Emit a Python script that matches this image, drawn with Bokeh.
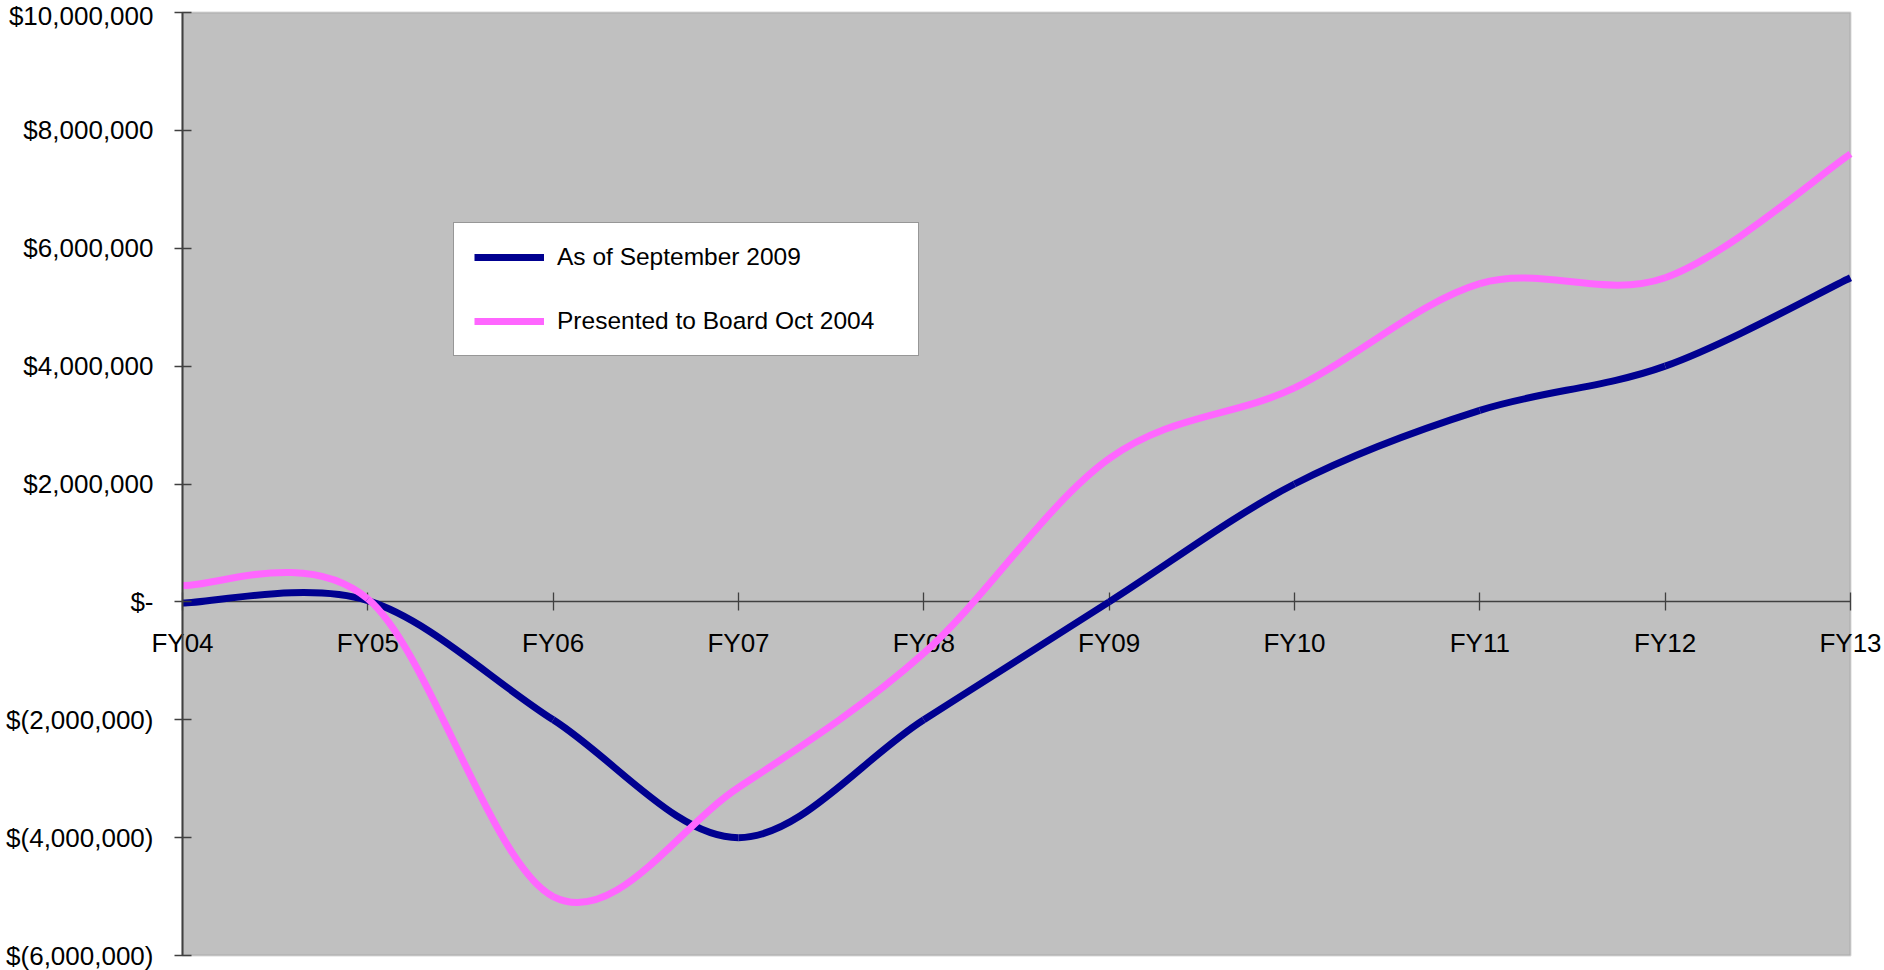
from bokeh.plotting import figure
from bokeh.models import (FixedTicker, Legend, LegendItem, ColumnDataSource, Range1d, BoxAnnotation)
from bokeh.embed import file_html
from bokeh.resources import INLINE

# ---------------- data ----------------
categories = ["FY04", "FY05", "FY06", "FY07", "FY08", "FY09", "FY10", "FY11", "FY12", "FY13"]
sept_2009 = [-20000, 20000, -2000000, -4000000, -2000000, 0, 2000000, 3250000, 4000000, 5500000]
oct_2004 = [280000, 50000, -5000000, -3150000, -870000, 2430000, 3630000, 5400000, 5500000, 7600000]
series_names = ["As of September 2009", "Presented to Board Oct 2004"]
y_ticks = [-6000000, -4000000, -2000000, 0, 2000000, 4000000, 6000000, 8000000, 10000000]
y_tick_labels = ["$(6,000,000)", "$(4,000,000)", "$(2,000,000)", "$-", "$2,000,000",
                 "$4,000,000", "$6,000,000", "$8,000,000", "$10,000,000"]

FONT = "Liberation Sans"
xs = list(range(len(categories)))

# ---------------- layout (pixels) ----------------
W, H = 1884, 970
PL, PR, PT, PB = 182, 1850, 12, 955   # plot-area edges in canvas pixels

x_lo, x_hi = xs[0], xs[-1]
y_lo, y_hi = y_ticks[0], y_ticks[-1]
kx = (x_hi - x_lo) / (PR - PL)
ky = (y_hi - y_lo) / (PB - PT)
x_range = Range1d(x_lo - PL * kx, x_hi + (W - PR) * kx)
y_range = Range1d(y_lo - (H - PB) * ky, y_hi + PT * ky)


def smooth_segments(x, y):
    """Catmull-Rom style cubic Bezier control points (like Excel's smoothed line)."""
    n = len(x)
    out = dict(x0=[], y0=[], x1=[], y1=[], cx0=[], cy0=[], cx1=[], cy1=[])
    for i in range(n - 1):
        ip = max(i - 1, 0)
        inn = min(i + 2, n - 1)
        out["x0"].append(x[i]); out["y0"].append(y[i])
        out["x1"].append(x[i + 1]); out["y1"].append(y[i + 1])
        out["cx0"].append(x[i] + (x[i + 1] - x[ip]) / 6.0)
        out["cy0"].append(y[i] + (y[i + 1] - y[ip]) / 6.0)
        out["cx1"].append(x[i + 1] - (x[inn] - x[i]) / 6.0)
        out["cy1"].append(y[i + 1] - (y[inn] - y[i]) / 6.0)
    return ColumnDataSource(out)


p = figure(width=W, height=H, output_backend="svg", toolbar_location=None,
           x_range=x_range, y_range=y_range,
           min_border=0, min_border_left=0, min_border_right=0, min_border_top=0, min_border_bottom=0,
           background_fill_color="white", border_fill_color="white",
           outline_line_color=None)
p.grid.visible = False

# grey plot area
plot_area = BoxAnnotation(left=x_lo, right=x_hi, bottom=y_lo, top=y_hi,
                          fill_color="#C0C0C0", fill_alpha=1.0,
                          line_color="#808080", line_width=2, level="image")
p.add_layout(plot_area)

# value axis (at the left edge of the plot area)
yax = p.yaxis[0]
yax.fixed_location = x_lo
yax.bounds = (y_lo, y_hi)
yax.ticker = FixedTicker(ticks=y_ticks, minor_ticks=[])
yax.major_label_overrides = {t: lab for t, lab in zip(y_ticks, y_tick_labels)}
yax.major_tick_out = 8
yax.major_tick_in = 9
yax.minor_tick_out = 0
yax.minor_tick_in = 0
yax.axis_line_color = "#404040"
yax.axis_line_width = 2
yax.major_tick_line_color = "#404040"
yax.major_tick_line_width = 1.5
yax.major_label_text_font = FONT
yax.major_label_text_font_size = "26px"
yax.major_label_text_color = "black"
yax.major_label_standoff = 21

# category axis crossing at zero
xax = p.xaxis[0]
xax.fixed_location = 0
xax.bounds = (x_lo, x_hi)
xax.level = "underlay"
xax.ticker = FixedTicker(ticks=xs, minor_ticks=[])
xax.major_label_overrides = {i: c for i, c in zip(xs, categories)}
xax.major_tick_out = 9
xax.major_tick_in = 9
xax.minor_tick_out = 0
xax.minor_tick_in = 0
xax.axis_line_color = "#404040"
xax.axis_line_width = 1.5
xax.major_tick_line_color = "#404040"
xax.major_tick_line_width = 1.3
xax.major_label_text_font = FONT
xax.major_label_text_font_size = "26px"
xax.major_label_text_color = "black"
xax.major_label_standoff = 17

# series
src_blue = smooth_segments(xs, sept_2009)
src_pink = smooth_segments(xs, oct_2004)
r_blue = p.bezier(x0="x0", y0="y0", x1="x1", y1="y1", cx0="cx0", cy0="cy0", cx1="cx1", cy1="cy1",
                  source=src_blue, line_color="#000090", line_width=7, line_cap="butt")
r_pink = p.bezier(x0="x0", y0="y0", x1="x1", y1="y1", cx0="cx0", cy0="cy0", cx1="cx1", cy1="cy1",
                  source=src_pink, line_color="#FF66FF", line_width=7, line_cap="butt")

legend = Legend(items=[LegendItem(label=series_names[0], renderers=[r_blue]),
                       LegendItem(label=series_names[1], renderers=[r_pink])],
                location=(453, H - 356), padding=20, spacing=36, glyph_width=70, glyph_height=28,
                label_height=28, label_standoff=13, label_width=341, margin=0,
                label_text_font=FONT, label_text_font_size="24.5px", label_text_color="black",
                border_line_color="#303030", border_line_width=1.5,
                background_fill_color="white", background_fill_alpha=1.0)
p.add_layout(legend)

open("out.html", "w").write(file_html(p, INLINE))
